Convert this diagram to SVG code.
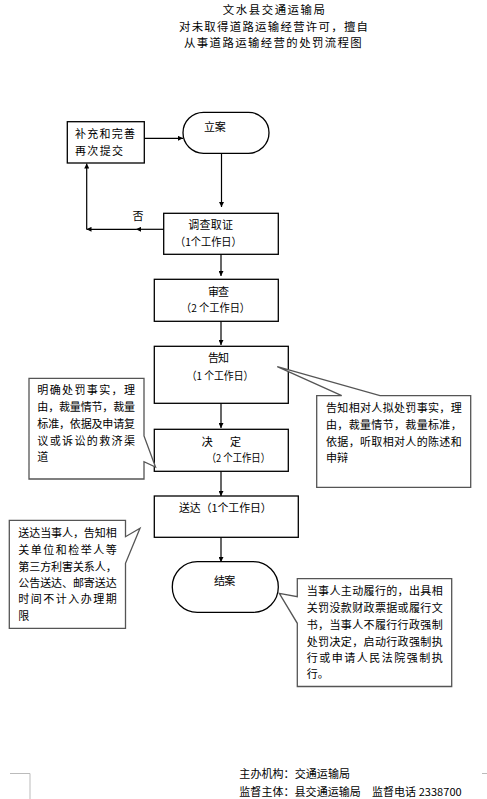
<svg xmlns="http://www.w3.org/2000/svg" width="487" height="799" viewBox="0 0 487 799">
<style>
text{font-family:"Noto Sans CJK SC","Noto Sans",sans-serif;font-size:11px;fill:#000}
.title{font-size:11.4px}
.box{fill:#fff;stroke:#000;stroke-width:1.3}
.call{fill:#fff;stroke:#555;stroke-width:1.3;stroke-linejoin:miter}
.conn{stroke:#000;stroke-width:1.2;fill:none}
.mark{stroke:#bbb;stroke-width:1;fill:none}
</style>
<defs>
<marker id="ah" viewBox="0 0 10 10" refX="10" refY="5" markerWidth="5" markerHeight="5" markerUnits="userSpaceOnUse" orient="auto">
<path d="M0,0 L10,5 L0,10 z" fill="#000"/>
</marker>
</defs>
<rect width="487" height="799" fill="#fff"/>
<g id="title">
<text class="title" x="222.7" y="14" textLength="102.3" lengthAdjust="spacing">文水县交通运输局</text>
<text class="title" x="179" y="30.7" textLength="189" lengthAdjust="spacing">对未取得道路运输经营许可，擅自</text>
<text class="title" x="184" y="47.4" textLength="177.7" lengthAdjust="spacing">从事道路运输经营的处罚流程图</text>
</g>
<g id="connectors">
<line class="conn" x1="144" y1="138.3" x2="183" y2="138.3" marker-end="url(#ah)"/>
<line class="conn" x1="221.5" y1="153" x2="221.5" y2="207" marker-end="url(#ah)"/>
<line class="conn" x1="221" y1="254" x2="221" y2="276" marker-end="url(#ah)"/>
<line class="conn" x1="221" y1="321" x2="221" y2="345" marker-end="url(#ah)"/>
<line class="conn" x1="221" y1="403" x2="221" y2="428" marker-end="url(#ah)"/>
<line class="conn" x1="221" y1="471" x2="221" y2="496" marker-end="url(#ah)"/>
<line class="conn" x1="221" y1="537" x2="221" y2="562" marker-end="url(#ah)"/>
<line class="conn" x1="164" y1="229.3" x2="136" y2="229.3" marker-end="url(#ah)"/>
<line class="conn" x1="136" y1="229.3" x2="86.5" y2="229.3" marker-end="url(#ah)"/>
<line class="conn" x1="86.7" y1="229.3" x2="86.7" y2="163.5" marker-end="url(#ah)"/>
<text x="132.5" y="220">否</text>
</g>
<g id="n_buchong">
<rect class="box" x="67.3" y="121.7" width="77" height="41.3"/>
<text x="75" y="138" textLength="60" lengthAdjust="spacing">补充和完善</text>
<text x="75" y="155" textLength="48" lengthAdjust="spacing">再次提交</text>
</g>
<g id="n_lian">
<rect class="box" x="183" y="112.3" width="86" height="41" rx="20.5" ry="20.5"/>
<text x="204" y="131" textLength="21.7" lengthAdjust="spacing">立案</text>
</g>
<g id="n_diaocha">
<rect class="box" x="163.7" y="213.3" width="114.6" height="41"/>
<text x="188.3" y="229" textLength="44.7" lengthAdjust="spacing">调查取证</text>
<text x="175" y="246" textLength="66.7" lengthAdjust="spacingAndGlyphs">（1个工作日）</text>
</g>
<g id="n_shencha">
<rect class="box" x="154.3" y="279.3" width="124" height="42"/>
<text x="208" y="296" textLength="21" lengthAdjust="spacing">审查</text>
<text x="181" y="312" textLength="69" lengthAdjust="spacingAndGlyphs">（2 个工作日）</text>
</g>
<g id="n_gaozhi">
<rect class="box" x="154.3" y="346.3" width="134" height="57"/>
<text x="208" y="362" textLength="21" lengthAdjust="spacing">告知</text>
<text x="186.7" y="380" textLength="66.6" lengthAdjust="spacingAndGlyphs">（1 个工作日）</text>
</g>
<g id="n_jueding">
<rect class="box" x="154.3" y="429.3" width="134" height="42"/>
<text x="201.7" y="446">决</text>
<text x="230" y="446">定</text>
<text x="206.7" y="462" textLength="63.3" lengthAdjust="spacingAndGlyphs">（2 个工作日）</text>
</g>
<g id="n_songda">
<rect class="box" x="154.3" y="496" width="144" height="41.3"/>
<text x="179" y="512" textLength="92.7" lengthAdjust="spacingAndGlyphs">送达（1个工作日）</text>
</g>
<g id="n_jiean">
<rect class="box" x="172.3" y="561.7" width="106" height="50.6" rx="25" ry="25"/>
<text x="214" y="585" textLength="21.3" lengthAdjust="spacing">结案</text>
</g>
<g id="c_jueding">
<polygon class="call" points="29,378.3 144,378.3 144,436 155.5,467 144,461.7 144,479 29,479"/>
<text x="37.3" y="394" textLength="97.7" lengthAdjust="spacing">明确处罚事实，理</text>
<text x="37.3" y="411" textLength="97.7" lengthAdjust="spacing">由，裁量情节，裁量</text>
<text x="37.3" y="428" textLength="97.7" lengthAdjust="spacing">标准，依据及申请复</text>
<text x="37.3" y="445" textLength="97.7" lengthAdjust="spacing">议或诉讼的救济渠</text>
<text x="37.3" y="461">道</text>
</g>
<g id="c_gaozhi">
<polygon class="call" points="316.7,395.7 341.7,395.7 277.3,366.7 380,395.7 470.7,395.7 470.7,487.3 316.7,487.3"/>
<text x="326" y="412" textLength="135.7" lengthAdjust="spacing">告知相对人拟处罚事实，理</text>
<text x="326" y="429" textLength="135.7" lengthAdjust="spacing">由，裁量情节，裁量标准，</text>
<text x="326" y="446" textLength="135.7" lengthAdjust="spacing">依据，听取相对人的陈述和</text>
<text x="326" y="462">申辩</text>
</g>
<g id="c_songda">
<polygon class="call" points="9.3,520.3 125.5,520.3 125.5,536.7 140,528.3 125.5,563.3 125.5,628.3 9.3,628.3"/>
<text x="18.3" y="537" textLength="98.4" lengthAdjust="spacing">送达当事人，告知相</text>
<text x="18.3" y="554" textLength="98.4" lengthAdjust="spacing">关单位和检举人等</text>
<text x="18.3" y="571" textLength="98.4" lengthAdjust="spacing">第三方利害关系人，</text>
<text x="18.3" y="587" textLength="98.4" lengthAdjust="spacing">公告送达、邮寄送达</text>
<text x="18.3" y="603" textLength="98.4" lengthAdjust="spacing">时间不计入办理期</text>
<text x="18.3" y="620">限</text>
</g>
<g id="c_jiean">
<polygon class="call" points="297.3,578.7 451.7,578.7 451.7,686.5 297.3,686.5 297.3,623.3 279.3,593.3 297.3,596.7"/>
<text x="306.7" y="595" textLength="136" lengthAdjust="spacing">当事人主动履行的，出具相</text>
<text x="306.7" y="612" textLength="136" lengthAdjust="spacing">关罚没款财政票据或履行文</text>
<text x="306.7" y="629" textLength="136" lengthAdjust="spacing">书，当事人不履行行政强制</text>
<text x="306.7" y="646" textLength="136" lengthAdjust="spacing">处罚决定，启动行政强制执</text>
<text x="306.7" y="662" textLength="136" lengthAdjust="spacing">行或申请人民法院强制执</text>
<text x="306.7" y="678">行。</text>
</g>
<g id="footer">
<text x="239.3" y="778" textLength="110.7" lengthAdjust="spacing">主办机构：交通运输局</text>
<text x="239.3" y="796" textLength="222.4" lengthAdjust="spacing">监督主体：县交通运输局　监督电话 2338700</text>
<polyline class="mark" points="10,773.5 30,773.5 30,799"/>
<line class="mark" x1="482" y1="773.5" x2="487" y2="773.5"/>
</g>
</svg>
